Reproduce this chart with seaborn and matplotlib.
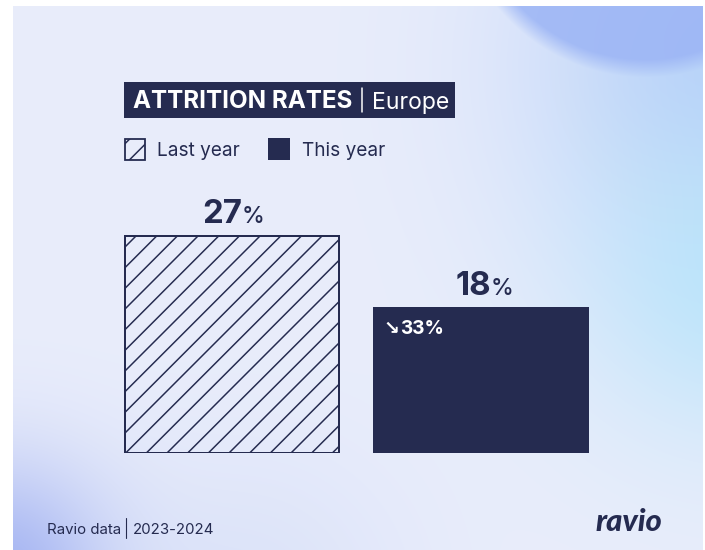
import numpy as np
import matplotlib
matplotlib.use("Agg")
import matplotlib.pyplot as plt
from matplotlib.patches import Rectangle
import seaborn as sns

# ---- data ----
categories = ["Last year", "This year"]
values = [27, 18]
title_main = "ATTRITION RATES"
title_sub = "Europe"
footer_left = "Ravio data"
footer_right = "2023-2024"
brand = "ravio"

NAVY = "#252b50"
BG = "#e9eefb"
W, H, DPI = 705, 550, 62
PT = 72 / DPI  # points per pixel

sns.set_theme(style="white")
plt.rcParams["font.family"] = ["Inter", "DejaVu Sans"]
plt.rcParams["hatch.color"] = NAVY
plt.rcParams["hatch.linewidth"] = 1.5 * PT

fig = plt.figure(figsize=(W / DPI, H / DPI), dpi=DPI)
fig.patch.set_facecolor("white")

def fx(px):
    return px / W

def fy(py):
    return 1 - py / H

# ---- background card with soft gradients ----
yy, xx = np.mgrid[0:H, 0:W].astype(float)
img = np.ones((H, W, 3)) * np.array([233, 237, 251]) / 255.0

def blend(img, alpha, color):
    c = np.array(color) / 255.0
    a = alpha[..., None]
    return img * (1 - a) + c * a

d = np.hypot(xx - 730, yy - 60)
img = blend(img, 0.75 * np.exp(-(d / 200) ** 2), (170, 200, 248))
d = np.hypot(xx - 740, yy - 280)
img = blend(img, 0.7 * np.exp(-(d / 160) ** 2), (175, 228, 250))
d = np.hypot(xx - 645, yy + 115)
a = np.clip((183 - d) / 18 + 0.5, 0, 1) * 0.85
img = blend(img, a, (155, 180, 245))
d = np.hypot(xx - 0, yy - 575)
img = blend(img, 0.8 * np.exp(-(d / 115) ** 2), (150, 168, 240))
d = np.hypot(xx - 250, yy - 600)
img = blend(img, 0.3 * np.exp(-(d / 150) ** 2), (190, 205, 245))
mask = (xx < 13) | (xx > 702) | (yy < 6)
img[mask] = 1.0

bg_ax = fig.add_axes([0, 0, 1, 1], zorder=0)
bg_ax.imshow(img, aspect="auto", extent=(0, W, H, 0))
bg_ax.set_axis_off()

# ---- bars ----
ax = fig.add_axes([fx(107.5), fy(453), 498 / W, (453 - 179.6) / H], zorder=2)
ax.patch.set_alpha(0)
sns.barplot(x=categories, y=values, hue=categories, palette=[BG, NAVY],
            legend=False, width=0.863, edgecolor=NAVY, linewidth=2 * PT,
            saturation=1, ax=ax)
bars = ax.patches
bars[0].set_facecolor("none")
bars[0].set_hatch("/")
ax.set_xlim(-0.5, 1.5)
ax.set_ylim(0, 34)
ax.set_axis_off()

for i, (b, v) in enumerate(zip(bars, values)):
    cx = b.get_x() + b.get_width() / 2
    top = b.get_height()
    ax.annotate(f"{v}", xy=(cx, top), xytext=(10.5 * PT, 13 * PT),
                textcoords="offset points", ha="right", va="baseline",
                fontsize=33 * PT, fontweight="bold", color=NAVY)
    ax.annotate("%", xy=(cx, top), xytext=(9.5 * PT, 13 * PT),
                textcoords="offset points", ha="left", va="baseline",
                fontsize=23 * PT, fontweight="medium", color=NAVY)

# change label inside second bar
change = round((values[1] - values[0]) / values[0] * 100)
arrow = "\u2198" if change < 0 else "\u2197"
b = bars[1]
ax.annotate(arrow, xy=(b.get_x(), b.get_height()),
            xytext=(10 * PT, -26 * PT), textcoords="offset points",
            ha="left", va="baseline", fontsize=19 * PT, fontweight="bold",
            color="white", family=["DejaVu Sans"])
ax.annotate(f"{abs(change)}%", xy=(b.get_x(), b.get_height()),
            xytext=(27 * PT, -26 * PT), textcoords="offset points",
            ha="left", va="baseline", fontsize=19 * PT, fontweight="bold",
            color="white")

# ---- title box ----
fig.add_artist(Rectangle((fx(124), fy(118)), (455 - 124) / W, 36 / H,
                         transform=fig.transFigure, facecolor=NAVY,
                         edgecolor="none", zorder=3))
fig.text(fx(133), fy(108.5), title_main, fontsize=24.2 * PT, fontweight="bold",
         color="white", ha="left", va="baseline", zorder=4)
fig.add_artist(plt.Line2D([fx(362), fx(362)], [fy(88), fy(112)],
                          transform=fig.transFigure, color="white", lw=1.5 * PT,
                          zorder=4))
fig.text(fx(372), fy(108.5), title_sub, fontsize=23 * PT, fontweight="normal",
         color="white", ha="left", va="baseline", zorder=4)

# ---- legend ----
fig.add_artist(Rectangle((fx(125), fy(160)), 20 / W, 21 / H,
                         transform=fig.transFigure, facecolor="none",
                         edgecolor=NAVY, lw=1.8 * PT, hatch="/", zorder=3))
fig.text(fx(157), fy(156), categories[0], fontsize=19 * PT, color=NAVY,
         ha="left", va="baseline", zorder=4)
fig.add_artist(Rectangle((fx(268), fy(160)), 22 / W, 22 / H,
                         transform=fig.transFigure, facecolor=NAVY,
                         edgecolor="none", zorder=3))
fig.text(fx(302), fy(156), categories[1], fontsize=19 * PT, color=NAVY,
         ha="left", va="baseline", zorder=4)

# ---- footer ----
fig.text(fx(47), fy(534), footer_left, fontsize=15 * PT, color=NAVY,
         ha="left", va="baseline", zorder=4)
fig.add_artist(plt.Line2D([fx(126), fx(126)], [fy(518), fy(538)],
                          transform=fig.transFigure, color=NAVY, lw=1.1 * PT,
                          zorder=4))
fig.text(fx(133), fy(534), footer_right, fontsize=15 * PT, color=NAVY,
         ha="left", va="baseline", zorder=4)
fig.text(fx(662), fy(531), brand, fontsize=31 * PT, color=NAVY,
         fontweight="black", style="italic", family=["Lato", "DejaVu Sans"],
         ha="right", va="baseline", zorder=4)

fig.savefig("out.png", dpi=DPI)
